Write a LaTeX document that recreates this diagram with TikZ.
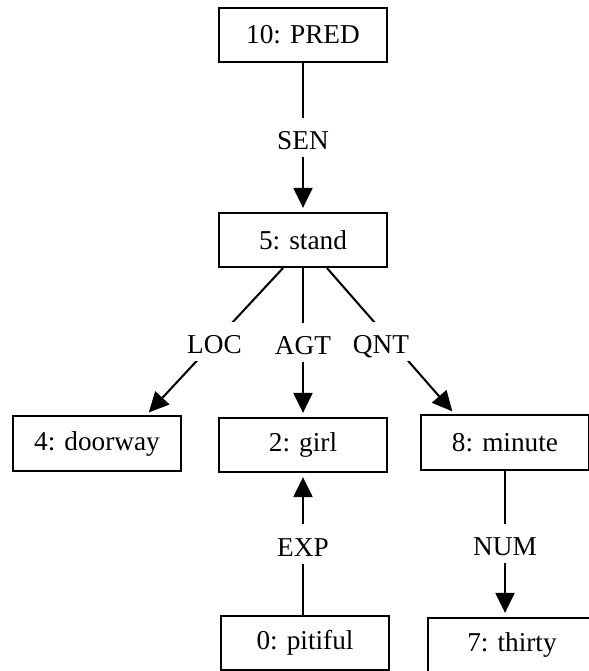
\documentclass[tikz,border=0pt]{standalone}
\usepackage{fontspec}
\setmainfont{Liberation Serif}
\usetikzlibrary{arrows.meta,calc}
\begin{document}
\begin{tikzpicture}[x=0.44pt,y=-0.44pt,>={Triangle[length=8.8pt,width=8.4pt]}]
        \tikzstyle{box}=[draw,line width=0.9pt,minimum width=73.9pt,minimum height=23.8pt,inner sep=0pt,font=\fontsize{12}{14}\selectfont]
        \tikzstyle{link}=[draw,line width=0.9pt,shorten >=1.8pt]
        \tikzstyle{lbl}=[fill=white,inner xsep=1pt,inner ysep=0pt,text height=13.9pt,text depth=3.3pt,font=\fontsize{12}{14}\selectfont]
        \useasboundingbox (0,0) rectangle (589,671);

         \node [box] (pred) at (303,35) {10: PRED};
         \node [box] (stand) at (303,240) {5: stand};
         \node [box] (door) at (97,443.5) {4: doorway};
         \node [box] (girl) at (303,445) {2: girl};
         \node [box] (minute) at (505,442.5) {8: minute};
         \node [box] (pitiful) at (305,643) {0: pitiful};
         \node [box] (thirty) at (512,645) {7: thirty};

         \path[link,->] (pred) to node[lbl] {SEN} (stand);
         \path[link,->] ($(stand.south)+(-20,0)$) to node[lbl] {LOC} ($(door.north)+(49,0)$);
         \path[link,->] (stand) to node[lbl] {AGT} (girl);
         \path[link,->] ($(stand.south)+(24,0)$) to node[lbl,xshift=-4.4pt] {QNT} ($(minute.north)+(-50,0)$);

         \path[link,->] (girl |- pitiful.north) to node[lbl] {EXP} (girl);
         \path[link,->] (minute) to node[lbl] {NUM} (minute |- thirty.north);

      \end{tikzpicture}
\end{document}
